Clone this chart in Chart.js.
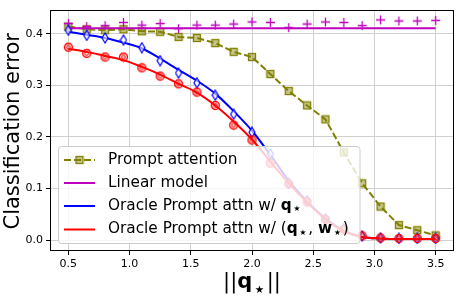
<!DOCTYPE html>
<html>
<head>
<meta charset="utf-8">
<script src="https://cdn.jsdelivr.net/npm/chart.js@4.4.0/dist/chart.umd.min.js"></script>
<style>
  html, body { margin: 0; padding: 0; background: #fff; }
  canvas { display: block; }
</style>
</head>
<body>
<canvas id="chart" width="460" height="296"></canvas>
<script>
// values
const qNorm = [0.5, 0.65, 0.8, 0.95, 1.1, 1.25, 1.4, 1.55, 1.7, 1.85, 2.0,
               2.15, 2.3, 2.45, 2.6, 2.75, 2.9, 3.05, 3.2, 3.35, 3.5]
const promptAttn = [0.414, 0.409, 0.407, 0.409, 0.405, 0.404, 0.394, 0.392, 0.382, 0.365, 0.355,
                    0.322, 0.289, 0.261, 0.234, 0.170, 0.110, 0.065, 0.029, 0.019, 0.009]
const linearPts = [0.420, 0.414, 0.416, 0.422, 0.417, 0.420, 0.410, 0.417, 0.417, 0.419, 0.423,
                   0.422, 0.412, 0.419, 0.423, 0.422, 0.416, 0.427, 0.425, 0.425, 0.426]
const linearLevel = 0.411
const oracleQPts = [0.407, 0.397, 0.392, 0.388, 0.373, 0.348, 0.324, 0.305, 0.281, 0.244, 0.209,
                    0.167, 0.110, 0.076, 0.041, 0.022, 0.008, 0.004, 0.003, 0.003, 0.003]
const oracleQLine = [0.404, 0.398, 0.392, 0.383, 0.372, 0.352, 0.330, 0.309, 0.284, 0.250, 0.212,
                     0.165, 0.115, 0.075, 0.042, 0.018, 0.006, 0.003, 0.002, 0.002, 0.002]
const oracleQWPts = [0.374, 0.362, 0.355, 0.355, 0.334, 0.318, 0.303, 0.287, 0.261, 0.223, 0.194,
                     0.149, 0.109, 0.074, 0.040, 0.020, 0.008, 0.004, 0.003, 0.003, 0.003]
const oracleQWLine = [0.371, 0.365, 0.357, 0.349, 0.336, 0.321, 0.303, 0.286, 0.261, 0.230, 0.195,
                      0.152, 0.110, 0.073, 0.040, 0.017, 0.006, 0.003, 0.002, 0.002, 0.002]
const xTicks = [0.5, 1.0, 1.5, 2.0, 2.5, 3.0, 3.5]
const yTicks = [0.0, 0.1, 0.2, 0.3, 0.4]

const OLIVE = '#808000', MAGENTA = '#bf00bf', BLUE = '#0000ff', RED = '#ff0000'
const FONT = '"DejaVu Sans", sans-serif'
const STAR = '\u2605'

function pts(ys) {
    return ys.map((y, i) => ({x: qNorm[i], y: y}))
}

function makeMarker(w, h, draw) {
    const c = document.createElement('canvas')
    c.width = w
    c.height = h
    draw(c.getContext('2d'))
    return c
}

const squareMark = makeMarker(10, 10, ctx => {
    ctx.fillStyle = 'rgba(128,128,0,0.45)'
    ctx.strokeStyle = OLIVE
    ctx.lineWidth = 1.3
    ctx.fillRect(1.5, 1.5, 7, 7)
    ctx.strokeRect(1.5, 1.5, 7, 7)
})
const plusMark = makeMarker(11, 11, ctx => {
    ctx.strokeStyle = MAGENTA
    ctx.lineWidth = 1.3
    ctx.beginPath()
    ctx.moveTo(1, 5.5); ctx.lineTo(10, 5.5)
    ctx.moveTo(5.5, 1); ctx.lineTo(5.5, 10)
    ctx.stroke()
})
const diamondMark = makeMarker(8, 12, ctx => {
    ctx.fillStyle = 'rgba(255,255,255,0.6)'
    ctx.strokeStyle = BLUE
    ctx.lineWidth = 1.2
    ctx.beginPath()
    ctx.moveTo(4, 1); ctx.lineTo(7, 6); ctx.lineTo(4, 11); ctx.lineTo(1, 6)
    ctx.closePath()
    ctx.fill()
    ctx.stroke()
})
const circleMark = makeMarker(11, 11, ctx => {
    ctx.fillStyle = 'rgba(255,0,0,0.15)'
    ctx.strokeStyle = RED
    ctx.lineWidth = 1.3
    ctx.beginPath()
    ctx.arc(5.5, 5.5, 4, 0, Math.PI * 2)
    ctx.fill()
    ctx.stroke()
    ctx.lineWidth = 1
    ctx.beginPath()
    ctx.arc(5.5, 5.5, 1.8, 0, Math.PI * 2)
    ctx.stroke()
})

// legend entries
const legendItems = [
    {color: OLIVE, dash: [7, 3], marker: squareMark, parts: [{t: 'Prompt attention'}]},
    {color: MAGENTA, parts: [{t: 'Linear model'}]},
    {color: BLUE, parts: [{t: 'Oracle Prompt attn w/ '}, {t: 'q', bold: true}, {t: STAR, sub: true}]},
    {color: RED, parts: [{t: 'Oracle Prompt attn w/ ('}, {t: 'q', bold: true}, {t: STAR, sub: true},
                         {t: ', '}, {t: 'w', bold: true}, {t: STAR, sub: true}, {t: ')'}]}
]

function drawRich(ctx, x, y, parts, size) {
    parts.forEach(p => {
        const s = p.sub ? size * 0.5 : size
        ctx.font = (p.bold ? 'bold ' : '') + s + 'px ' + FONT
        const pad = p.sub ? size * 0.12 : 0
        ctx.fillText(p.t, x + pad, p.sub ? y + size * 0.22 : y)
        x += ctx.measureText(p.t).width + pad * 2
    })
    return x
}

function richWidth(ctx, parts, size) {
    let w = 0
    parts.forEach(p => {
        const s = p.sub ? size * 0.5 : size
        ctx.font = (p.bold ? 'bold ' : '') + s + 'px ' + FONT
        w += ctx.measureText(p.t).width + (p.sub ? size * 0.24 : 0)
    })
    return w
}

function roundRect(ctx, x, y, w, h, r) {
    ctx.beginPath()
    ctx.moveTo(x + r, y)
    ctx.arcTo(x + w, y, x + w, y + h, r)
    ctx.arcTo(x + w, y + h, x, y + h, r)
    ctx.arcTo(x, y + h, x, y, r)
    ctx.arcTo(x, y, x + w, y, r)
    ctx.closePath()
}

const legendBox = {
    id: 'legendBox',
    afterDatasetsDraw(chart) {
        const ctx = chart.ctx
        ctx.save()
        roundRect(ctx, 58.5, 146.5, 301.5, 97, 3)
        ctx.fillStyle = 'rgba(255,255,255,0.8)'
        ctx.fill()
        ctx.strokeStyle = '#cccccc'
        ctx.lineWidth = 1
        ctx.stroke()
        const rows = [160, 183, 206, 229.5]
        legendItems.forEach((item, i) => {
            const y = rows[i]
            ctx.strokeStyle = item.color
            ctx.lineWidth = 2
            ctx.setLineDash(item.dash || [])
            ctx.beginPath()
            ctx.moveTo(64, y)
            ctx.lineTo(95, y)
            ctx.stroke()
            ctx.setLineDash([])
            if (item.marker) {
                ctx.drawImage(item.marker, 79.5 - item.marker.width / 2, y - item.marker.height / 2)
            }
            ctx.fillStyle = '#000'
            ctx.textBaseline = 'middle'
            ctx.textAlign = 'left'
            drawRich(ctx, 108, y, item.parts, 15.3)
        })
        ctx.restore()
    },
    afterDraw(chart) {
        const ctx = chart.ctx
        const a = chart.chartArea
        ctx.save()
        // axes frame
        ctx.strokeStyle = '#000'
        ctx.lineWidth = 1
        ctx.strokeRect(Math.round(a.left) + 0.5, Math.round(a.top) + 0.5,
                       Math.round(a.right - a.left) - 1, Math.round(a.bottom - a.top) - 1)
        // axis titles
        ctx.fillStyle = '#000'
        ctx.textBaseline = 'alphabetic'
        const xt = [{t: '||'}, {t: 'q', bold: true}, {t: STAR, sub: true}, {t: '||'}]
        const w = richWidth(ctx, xt, 21)
        drawRich(ctx, (a.left + a.right) / 2 - w / 2, 288, xt, 21)
        ctx.translate(18.5, (a.top + a.bottom) / 2 + 1)
        ctx.rotate(-Math.PI / 2)
        ctx.textAlign = 'center'
        ctx.font = '21px ' + FONT
        ctx.fillText('Classification error', 0, 0)
        ctx.restore()
    }
}

const markerSet = (ys, mark, order) => ({
    data: pts(ys), showLine: false, pointStyle: mark, pointRadius: 4,
    pointHoverRadius: 4, order: order
})
const lineSet = (data, color, order, extra) => Object.assign({
    data: data, borderColor: color, borderWidth: 2, pointRadius: 0,
    fill: false, order: order
}, extra || {})

new Chart(document.getElementById('chart'), {
    type: 'scatter',
    data: {
        datasets: [
            markerSet(oracleQWPts, circleMark, 0),
            lineSet(pts(oracleQWLine), RED, 1, {showLine: true, cubicInterpolationMode: 'monotone'}),
            markerSet(oracleQPts, diamondMark, 2),
            lineSet(pts(oracleQLine), BLUE, 3, {showLine: true, cubicInterpolationMode: 'monotone'}),
            markerSet(linearPts, plusMark, 4),
            lineSet([{x: qNorm[0], y: linearLevel}, {x: qNorm[qNorm.length - 1], y: linearLevel}],
                    MAGENTA, 5, {showLine: true}),
            lineSet(pts(promptAttn), OLIVE, 6, {
                showLine: true, borderDash: [7, 3], pointRadius: 4,
                pointStyle: squareMark, pointHoverRadius: 4
            })
        ]
    },
    options: {
        responsive: false,
        animation: false,
        devicePixelRatio: 1,
        layout: {padding: {top: 2, right: 3, left: 0, bottom: 0}},
        plugins: {legend: {display: false}, tooltip: {enabled: false}},
        scales: {
            x: {
                type: 'linear', min: 0.35, max: 3.65,
                afterBuildTicks: s => { s.ticks = xTicks.map(v => ({value: v})) },
                afterFit: s => { s.height = 45 },
                grid: {color: '#d0d0d0', lineWidth: 1, tickColor: '#000', tickLength: 4},
                border: {display: false},
                ticks: {color: '#000', padding: 3, maxRotation: 0,
                        font: {family: FONT, size: 11}, callback: v => v.toFixed(1)}
            },
            y: {
                min: -0.0213, max: 0.447,
                afterBuildTicks: s => { s.ticks = yTicks.map(v => ({value: v})) },
                afterFit: s => { s.width = 50 },
                grid: {color: '#d0d0d0', lineWidth: 1, tickColor: '#000', tickLength: 4},
                border: {display: false},
                ticks: {color: '#000', padding: 3,
                        font: {family: FONT, size: 11}, callback: v => v.toFixed(1)}
            }
        }
    },
    plugins: [legendBox]
})
</script>
</body>
</html>
